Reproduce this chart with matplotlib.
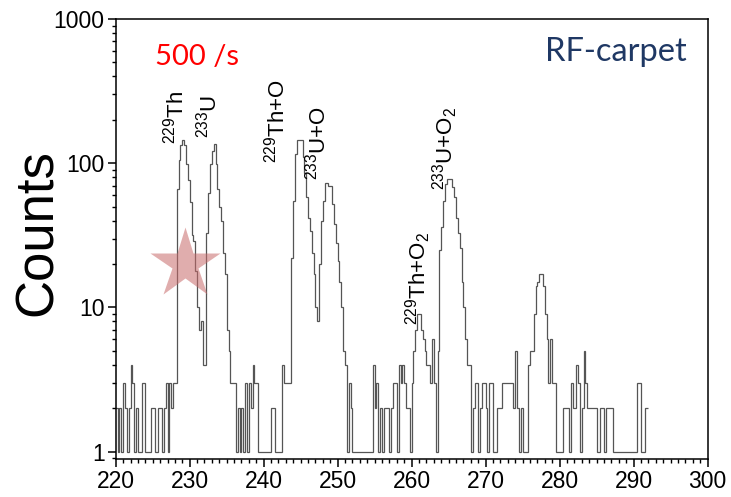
import numpy as np
import matplotlib
matplotlib.use("Agg")
from matplotlib import pyplot as plt
from matplotlib.ticker import MultipleLocator, LogLocator, NullFormatter, FixedFormatter, FixedLocator

plt.rcParams['font.family'] = ['Liberation Sans', 'DejaVu Sans']
plt.rcParams['mathtext.fontset'] = 'custom'
plt.rcParams['mathtext.rm'] = 'Liberation Sans'
plt.rcParams['mathtext.it'] = 'Liberation Sans'

# mass spectrum, 0.25 u bins starting at 220 u (one row per mass unit)
bin_start = 220.0
bin_width = 0.25
counts = [
    2, 1, 2, 1,        # 220
    3, 2, 1, 2,        # 221
    4, 3, 1, 2,        # 222
    1, 1, 3, 3,        # 223
    1, 1, 1, 2,        # 224
    2, 1, 1, 2,        # 225
    2, 1, 2, 3,        # 226
    1, 3, 2, 3,        # 227
    3, 66, 105, 134,   # 228
    146, 134, 99, 76,  # 229
    54, 32, 29, 18,    # 230
    10, 7, 8, 4,       # 231
    4, 33, 62, 99,     # 232
    122, 137, 99, 66,  # 233
    50, 40, 24, 17,    # 234
    7, 5, 3, 3,        # 235
    3, 1, 2, 1,        # 236
    2, 1, 3, 1,        # 237
    3, 2, 4, 3,        # 238
    3, 1, 1, 1,        # 239
    1, 1, 1, 1,        # 240
    2, 2, 1, 1,        # 241
    1, 1, 4, 3,        # 242
    3, 3, 3, 22,       # 243
    55, 116, 144, 146, # 244
    146, 110, 85, 58,  # 245
    42, 34, 24, 17,    # 246
    10, 8, 20, 40,     # 247
    55, 73, 73, 70,    # 248
    70, 52, 38, 28,    # 249
    21, 15, 10, 5,     # 250
    4, 1, 3, 2,        # 251
    1, 1, 1, 1,        # 252
    1, 1, 1, 1,        # 253
    1, 1, 1, 4,        # 254
    2, 3, 1, 2,        # 255
    1, 2, 2, 2,        # 256
    1, 2, 3, 3,        # 257
    1, 4, 3, 4,        # 258
    3, 2, 2, 1,        # 259
    3, 5, 7, 9,        # 260
    9, 7, 6, 5,        # 261
    4, 4, 3, 6,        # 262
    3, 1, 5, 25,       # 263
    36, 55, 72, 78,    # 264
    78, 78, 68, 58,    # 265
    42, 33, 26, 15,    # 266
    10, 6, 4, 4,       # 267
    1, 2, 3, 3,        # 268
    1, 2, 3, 3,        # 269
    2, 1, 3, 3,        # 270
    1, 1, 2, 2,        # 271
    2, 3, 3, 3,        # 272
    3, 3, 3, 2,        # 273
    5, 2, 1, 2,        # 274
    1, 1, 1, 4,        # 275
    5, 5, 9, 14,       # 276
    15, 17, 17, 14,    # 277
    9, 6, 3, 6,        # 278
    3, 3, 1, 1,        # 279
    1, 1, 2, 2,        # 280
    2, 1, 3, 2,        # 281
    2, 4, 3, 1,        # 282
    2, 5, 3, 2,        # 283
    2, 2, 2, 2,        # 284
    1, 1, 2, 2,        # 285
    1, 2, 2, 2,        # 286
    2, 1, 1, 1,        # 287
    1, 1, 1, 1,        # 288
    1, 1, 1, 1,        # 289
    1, 1, 3, 3,        # 290
    1, 1, 2, 2,        # 291
]

# peak labels: (text, mass, count at the label's lower end)
peak_texts = [r'$^{229}$Th', r'$^{233}$U', r'$^{229}$Th+O', r'$^{233}$U+O',
              r'$^{229}$Th+O$_2$', r'$^{233}$U+O$_2$']
peak_mass = [228.1, 232.5, 241.7, 247.3, 260.9, 264.6]
peak_cnt = [137, 150, 100, 76, 7.5, 65]

xticks = [220, 230, 240, 250, 260, 270, 280, 290, 300]
yticks = [1, 10, 100, 1000]

star_mass = 229.4
star_cnt = 20

fig = plt.figure(figsize=(7.31, 4.97), dpi=100)
ax = fig.add_axes([0.1583, 0.0759, 0.8096, 0.8859])

edges = bin_start + bin_width * np.arange(len(counts) + 1)
ax.stairs(counts, edges, baseline=None, color='#555555', lw=0.9)

ax.plot([star_mass], [star_cnt], marker='*', ms=53, color='#c86a6a',
        alpha=0.55, mec='none', ls='none', zorder=3)

for t, m, c in zip(peak_texts, peak_mass, peak_cnt):
    ax.text(m, c, t, rotation=90, ha='center', va='bottom', fontsize=16)

ax.set_yscale('log')
ax.set_xlim(220, 300)
ax.set_ylim(0.886, 1000)

ax.xaxis.set_major_locator(FixedLocator(xticks))
ax.xaxis.set_minor_locator(MultipleLocator(1))
ax.yaxis.set_major_locator(FixedLocator(yticks))
ax.yaxis.set_major_formatter(FixedFormatter([str(v) for v in yticks]))
ax.yaxis.set_minor_locator(LogLocator(base=10, subs=np.arange(2, 10)))
ax.yaxis.set_minor_formatter(NullFormatter())

ax.tick_params(which='major', direction='out', length=6, width=1.1,
               labelsize=16.5, pad=2)
ax.tick_params(which='minor', direction='out', length=3, width=1.0)
for s in ax.spines.values():
    s.set_linewidth(1.1)

ax.set_ylabel('Counts', fontsize=38, va='center')
ax.yaxis.set_label_coords(-0.131, 0.516)

ax.text(0.137, 0.914, '500 /s', transform=ax.transAxes, color='#ff0000',
        fontsize=21, family='Lato', ha='center', va='center')
ax.text(0.845, 0.925, 'RF-carpet', transform=ax.transAxes, color='#1f3864',
        fontsize=23.5, family='Lato', ha='center', va='center')

fig.savefig('out.png', dpi=100)
